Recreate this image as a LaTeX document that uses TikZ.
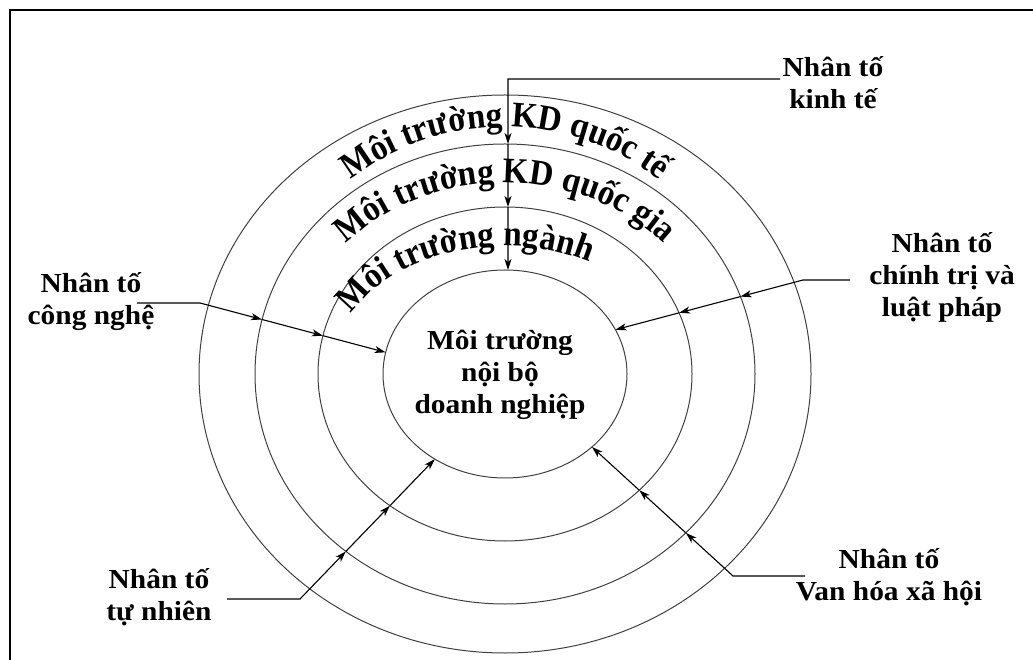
\documentclass[tikz,border=0pt]{standalone}
\usepackage{fontspec}
\setmainfont{Liberation Serif}
\newfontfamily\lblfamily{Liberation Serif}[FakeStretch=1.07]
\newfontfamily\ringfamily{Liberation Serif}[FakeStretch=0.92]
\usetikzlibrary{arrows.meta,decorations.text,intersections,calc}
\begin{document}
\begin{tikzpicture}[x=1pt,y=1pt,
  ring/.style={line width=1pt, draw=black!75},
  conn/.style={line width=1.1pt, draw=black},
  tip/.style={-{Stealth[length=11pt,width=7pt,inset=3pt]}},
  lbl/.style={align=center, inner sep=0pt, font=\lblfamily\bfseries\fontsize{27.5}{32}\selectfont}]
\useasboundingbox (0,0) rectangle (1033,659);
\draw[line width=2.8pt] (10,-5) -- (10,649) -- (1045,649);

\coordinate (C) at (505,285);
\draw[ring,name path=R1] (C) ellipse (306pt and 279pt);
\draw[ring,name path=R2] (C) ellipse (250pt and 230pt);
\draw[ring,name path=R3] (C) ellipse (187pt and 167pt);
\draw[ring,name path=R4] (C) ellipse (122pt and 104pt);

\node[lbl] (inner) at (500,284) {Môi trường\\nội bộ\\doanh nghiệp};

% ring texts
\path[decorate, decoration={text along path, text align=center,
  text={|\ringfamily\bfseries\fontsize{36}{40}\selectfont|Môi trường KD quốc tế}}]
  ($(C)+(175:250pt and 247pt)$) arc[start angle=175, end angle=5, x radius=250pt, y radius=247pt];
\path[decorate, decoration={text along path, text align=center,
  text={|\ringfamily\bfseries\fontsize{36}{40}\selectfont|Môi trường KD quốc gia}}]
  ($(C)+(175:218pt and 191pt)$) arc[start angle=175, end angle=5, x radius=218pt, y radius=191pt];
\path[decorate, decoration={text along path, text align=left,
  text={|\ringfamily\bfseries\fontsize{36}{40}\selectfont|Môi trường ngành}}]
  ($(C)+(152:174pt and 128pt)$) arc[start angle=152, end angle=0, x radius=174pt, y radius=128pt];

% labels
\node[lbl] (econ) at (833,576) {Nhân tố\\kinh tế};
\node[lbl] (tech) at (91,357) {Nhân tố\\công nghệ};
\node[lbl] (pol)  at (942,382) {Nhân tố\\chính trị và\\luật pháp};
\node[lbl] (nat)  at (159,62) {Nhân tố\\tự nhiên};
\node[lbl] (cul)  at (889,82) {Nhân tố\\Van hóa xã hội};

% economic
\coordinate (sA) at (780,580); \coordinate (kA) at (508,580); \coordinate (fA) at (508,359);
\path[name path=LA] (kA) -- (fA);
\path[name intersections={of=LA and R2, by=pAb}];
\path[name intersections={of=LA and R3, by=pAc}];
\path[name intersections={of=LA and R4, by=pAd}];
\draw[conn,tip] (sA) -- (kA) -- (pAb);
\draw[conn,tip] (pAb) -- (pAc);
\draw[conn,tip] (pAc) -- (pAd);
% technology
\coordinate (sB) at (137,356); \coordinate (kB) at (200,356); \coordinate (fB) at (422,297);
\path[name path=LB] (kB) -- (fB);
\path[name intersections={of=LB and R2, by=pBb}];
\path[name intersections={of=LB and R3, by=pBc}];
\path[name intersections={of=LB and R4, by=pBd}];
\draw[conn,tip] (sB) -- (kB) -- (pBb);
\draw[conn,tip] (pBb) -- (pBc);
\draw[conn,tip] (pBc) -- (pBd);
% politics
\coordinate (sC) at (850,379); \coordinate (kC) at (803,379); \coordinate (fC) at (569,317);
\path[name path=LC] (kC) -- (fC);
\path[name intersections={of=LC and R2, by=pCb}];
\path[name intersections={of=LC and R3, by=pCc}];
\path[name intersections={of=LC and R4, by=pCd}];
\draw[conn,tip] (sC) -- (kC) -- (pCb);
\draw[conn,tip] (pCb) -- (pCc);
\draw[conn,tip] (pCc) -- (pCd);
% nature
\coordinate (sD) at (227,60); \coordinate (kD) at (300,60); \coordinate (fD) at (471.6,238);
\path[name path=LD] (kD) -- (fD);
\path[name intersections={of=LD and R2, by=pDb}];
\path[name intersections={of=LD and R3, by=pDc}];
\path[name intersections={of=LD and R4, by=pDd}];
\draw[conn,tip] (sD) -- (kD) -- (pDb);
\draw[conn,tip] (pDb) -- (pDc);
\draw[conn,tip] (pDc) -- (pDd);
% culture
\coordinate (sE) at (805,83); \coordinate (kE) at (733,83); \coordinate (fE) at (549.7,250.7);
\path[name path=LE] (kE) -- (fE);
\path[name intersections={of=LE and R2, by=pEb}];
\path[name intersections={of=LE and R3, by=pEc}];
\path[name intersections={of=LE and R4, by=pEd}];
\draw[conn,tip] (sE) -- (kE) -- (pEb);
\draw[conn,tip] (pEb) -- (pEc);
\draw[conn,tip] (pEc) -- (pEd);
\end{tikzpicture}
\end{document}
